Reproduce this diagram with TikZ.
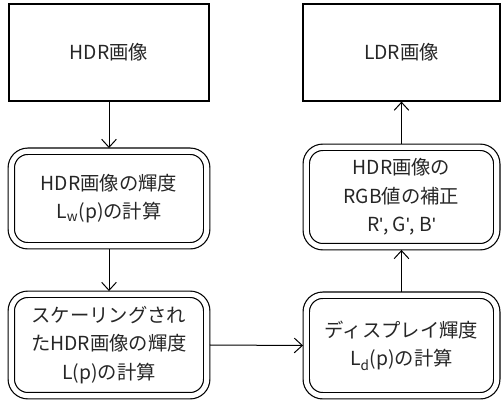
\documentclass[tikz,border=0pt]{standalone}
\usepackage{fontspec}
\setmainfont{Noto Sans CJK JP}[Ligatures=ResetAll]
\newfontfamily\apfont{Liberation Sans}[Ligatures=ResetAll]
\newcommand{\ap}{{\apfont\char39}}
\usetikzlibrary{arrows.meta}
\begin{document}
\begin{tikzpicture}[x=0.75pt,y=-0.75pt,
  txt/.style={font=\fontsize{14.5}{21.5}\selectfont, align=center, text=black!85},
  plainbox/.style={txt, draw, line width=0.9pt, inner sep=0pt},
  dblbox/.style={txt, draw, line width=0.9pt, double, double distance=3.8pt,
    rounded corners=12.5pt, inner sep=0pt, outer sep=2.4pt},
  arr/.style={line width=0.75pt, -{Straight Barb[length=6pt,width=11pt]}}]
\useasboundingbox (0,0) rectangle (501,403);
\node[plainbox, minimum width=150pt, minimum height=72.75pt] (hdr) at (109,52.5) {HDR画像};
\node[plainbox, minimum width=147.75pt, minimum height=72.75pt] (ldr) at (401.5,52.5) {LDR画像};
\node[dblbox, minimum width=146.6pt, minimum height=70.9pt] (lum) at (109,198.5)
  {HDR画像の輝度\\L\textsubscript{w}(p)の計算};
\node[dblbox, minimum width=146.6pt, minimum height=76.1pt] (scl) at (109,345)
  {スケーリングされ\\たHDR画像の輝度\\L(p)の計算};
\node[dblbox, minimum width=142.9pt, minimum height=74.6pt] (rgb) at (401.5,197)
  {HDR画像の\\RGB値の補正\\R\ap, G\ap, B\ap};
\node[dblbox, minimum width=142.9pt, minimum height=75.4pt] (dsp) at (401.5,345.5)
  {ディスプレイ輝度\\L\textsubscript{d}(p)の計算};
\draw[arr] (hdr.south) -- (lum.north);
\draw[arr] (lum.south) -- (scl.north);
\draw[arr] (scl.east) -- (dsp.west);
\draw[arr] (dsp.north) -- (rgb.south);
\draw[arr] (rgb.north) -- (ldr.south);
\end{tikzpicture}
\end{document}
